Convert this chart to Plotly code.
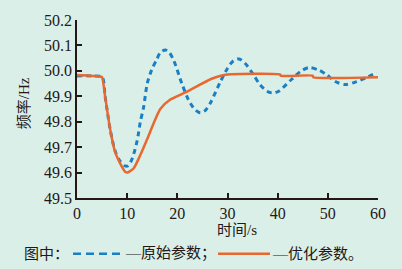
import plotly.graph_objects as go

# ---- data ----
t_orig = [0, 3, 5.0, 5.6, 6.6, 7.6, 8.6, 9.6, 10.2, 11.0, 12.0, 12.6, 13.3, 14.0, 14.9,
          15.9, 16.6, 17.6, 18.4, 19.3, 20.9, 22.2, 23.5, 24.6, 25.6, 26.6, 28.6, 30.0,
          31.2, 32.3, 33.5, 35.2, 36.5, 37.9, 39.0, 40.2, 42.8, 44.5, 46.2, 48.2, 49.8,
          51.5, 53.5, 55.8, 57.8, 59.8]
f_orig = [49.98, 49.98, 49.975, 49.90, 49.771, 49.685, 49.645, 49.626, 49.627, 49.655,
          49.726, 49.797, 49.86, 49.95, 50.005, 50.045, 50.072, 50.082, 50.072, 50.04,
          49.95, 49.887, 49.848, 49.835, 49.845, 49.874, 49.958, 50.01, 50.04, 50.047,
          50.03, 49.984, 49.945, 49.92, 49.913, 49.92, 49.967, 49.997, 50.013, 50.003,
          49.984, 49.958, 49.946, 49.958, 49.975, 49.993]

t_opt = [0, 4.6, 5.0, 5.6, 6.6, 7.6, 8.6, 9.6, 10.1, 11.3, 12.6, 14.0, 15.2, 16.6, 18.6,
         21.6, 24.0, 26.6, 28.5, 30.0, 40.5, 40.6, 47.0, 47.1, 60.0]
f_opt = [49.984, 49.978, 49.975, 49.90, 49.771, 49.68, 49.636, 49.603, 49.600, 49.617,
         49.668, 49.732, 49.79, 49.85, 49.887, 49.915, 49.94, 49.967, 49.98, 49.986,
         49.986, 49.981, 49.981, 49.975, 49.975]

x_ticks = [0, 10, 20, 30, 40, 50, 60]
y_ticks = [49.5, 49.6, 49.7, 49.8, 49.9, 50.0, 50.1, 50.2]
y_tick_text = ["49.5", "49.6", "49.7", "49.8", "49.9", "50.0", "50.1", "50.2"]

BLUE = "#1a7fc3"
ORANGE = "#e8682f"
BG = "#dbefe9"
FONT = "Liberation Serif, Noto Sans CJK SC, serif"

fig = go.Figure()
fig.add_trace(go.Scatter(x=t_orig, y=f_orig, mode="lines", name="原始参数",
                         line=dict(color=BLUE, width=3, dash="5px,4px", shape="spline", smoothing=0.8)))
fig.add_trace(go.Scatter(x=t_opt, y=f_opt, mode="lines", name="优化参数",
                         line=dict(color=ORANGE, width=2.5, shape="spline", smoothing=0.6)))

L, R, T, B = 77, 24, 16, 71
W, H = 402, 269
pw, ph = W - L - R, H - T - B

def px(x):
    return (x - L) / pw

def py(y):
    return (H - B - y) / ph

fig.update_layout(
    width=W, height=H,
    margin=dict(l=L, r=R, t=T, b=B),
    paper_bgcolor=BG, plot_bgcolor=BG,
    showlegend=False,
    font=dict(family=FONT, size=15, color="#231815"),
    xaxis=dict(range=[0, 60], tickvals=x_ticks, ticks="inside", ticklen=5, tickwidth=1.5,
               tickcolor="#231815", showline=True, linecolor="#231815", linewidth=1.5,
               showgrid=False, zeroline=False, tickfont=dict(size=16, family=FONT)),
    yaxis=dict(range=[49.5, 50.2], tickvals=y_ticks, ticktext=y_tick_text, ticks="inside",
               ticklen=5, tickwidth=1.5, tickcolor="#231815", showline=True,
               linecolor="#231815", linewidth=1.5, showgrid=False, zeroline=False,
               tickfont=dict(size=16, family=FONT)),
)

ann = [
    dict(text="时间/s", x=px(237), y=py(231), xanchor="center", yanchor="middle", font=dict(size=15)),
    dict(text="频率/Hz", x=px(24), y=py(101), xanchor="center", yanchor="middle", textangle=-90,
         font=dict(size=15)),
    dict(text="图中：", x=px(71), y=py(255), xanchor="right", yanchor="middle", font=dict(size=15)),
    dict(text="—原始参数；", x=px(123), y=py(255), xanchor="left", yanchor="middle", font=dict(size=15)),
    dict(text="—优化参数。", x=px(270), y=py(255), xanchor="left", yanchor="middle", font=dict(size=15)),
]
for a in ann:
    a.update(xref="paper", yref="paper", showarrow=False)
fig.update_layout(annotations=ann)

fig.add_shape(type="line", xref="paper", yref="paper", x0=px(73), x1=px(122), y0=py(255), y1=py(255),
              line=dict(color=BLUE, width=2.5, dash="8px,5px"))
fig.add_shape(type="line", xref="paper", yref="paper", x0=px(218), x1=px(270), y0=py(255), y1=py(255),
              line=dict(color=ORANGE, width=2.5))

fig.write_html("out.html", config={"displayModeBar": False},
               post_script="document.body.style.margin='0';document.body.style.background='%s';" % BG)
